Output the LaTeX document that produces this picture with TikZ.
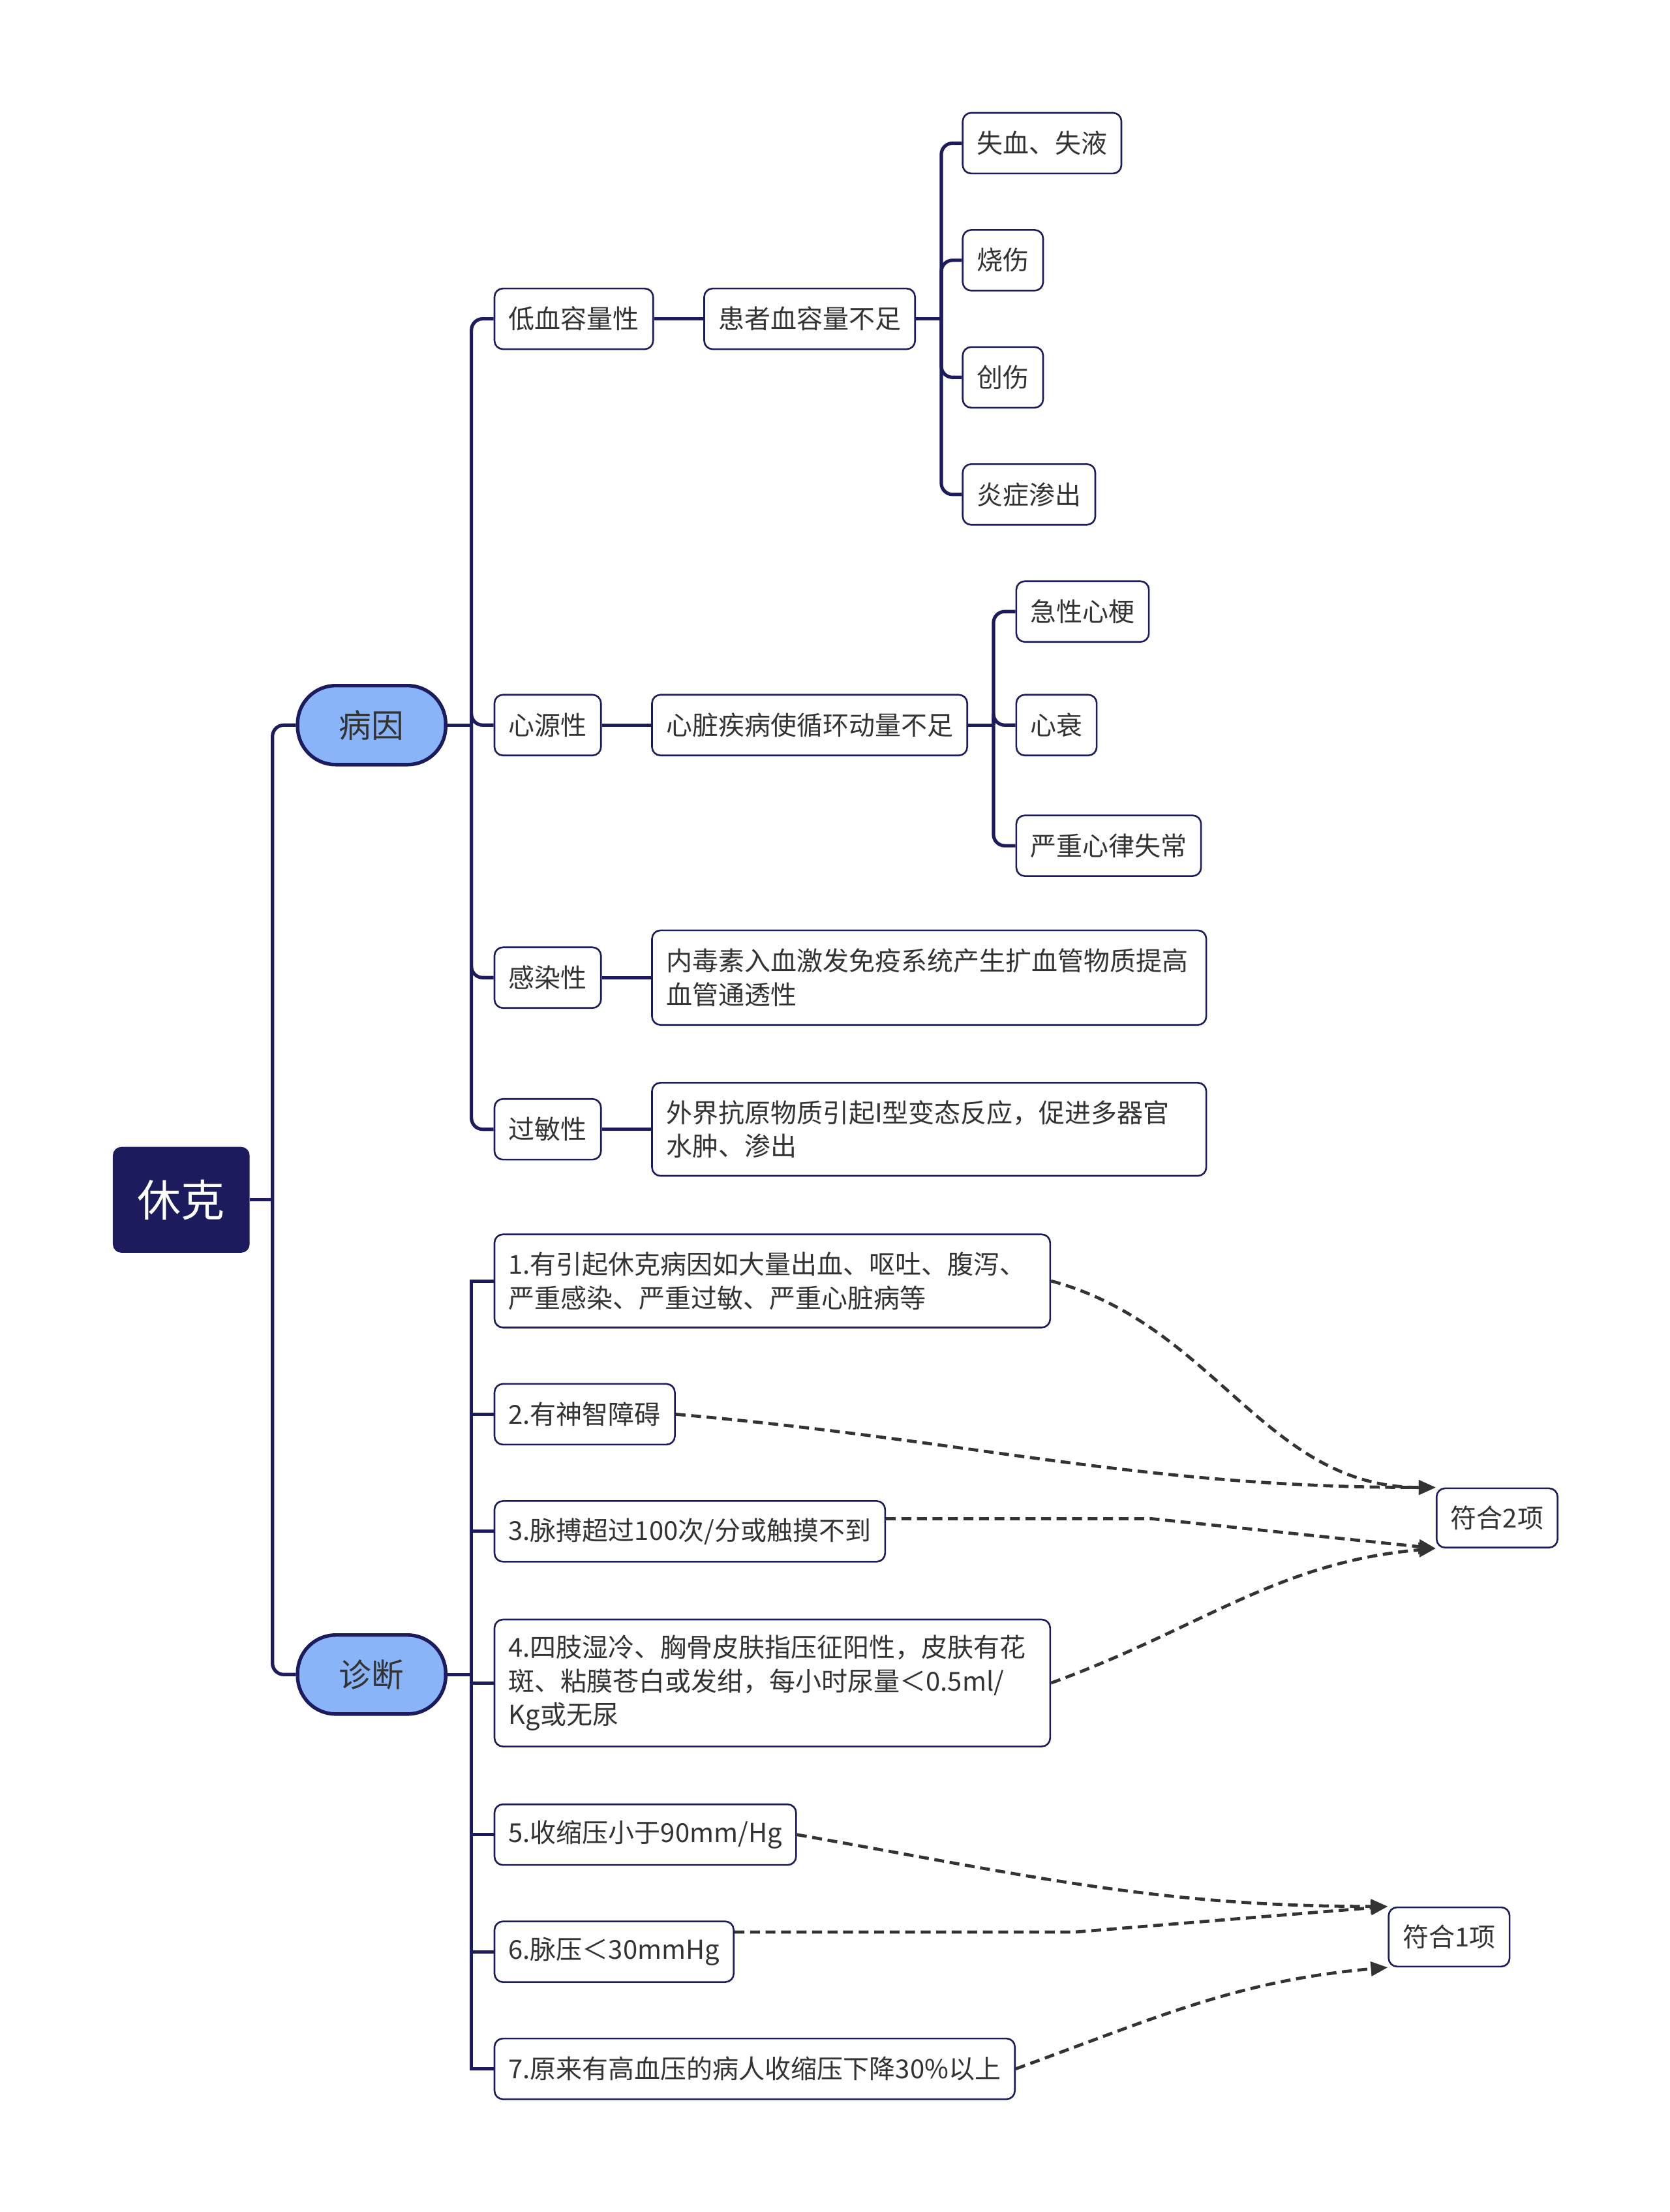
\documentclass[tikz,border=0pt]{standalone}
\usepackage{fontspec}
\setmainfont{Noto Sans CJK SC}
\usetikzlibrary{arrows.meta,positioning}
\definecolor{shocknavy}{HTML}{1B1B5E}
\definecolor{shockblue}{HTML}{8AB4F8}
\definecolor{shocktext}{HTML}{333333}

\begin{document}
\begin{tikzpicture}[x=1pt, y=1pt,
    root/.style={fill=shocknavy, rounded corners=6pt, minimum width=97pt,
                 minimum height=75pt, text=white, font=\fontsize{31}{36}\selectfont},
    main/.style={draw=shocknavy, line width=2.5pt, fill=shockblue, rounded corners=27pt,
                 minimum width=105pt, minimum height=56pt, text=shocktext,
                 font=\fontsize{23}{28}\selectfont},
    leaf/.style={draw=shocknavy, line width=1.2pt, fill=white, rounded corners=6pt,
                 minimum height=43pt, inner xsep=10pt, text=shocktext, align=left,
                 font=\fontsize{18.5}{24}\selectfont, anchor=west},
    branch/.style={draw=shocknavy, line width=2.4pt, rounded corners=8pt},
    rel/.style={draw=shocktext, line width=2.2pt, dash pattern=on 7pt off 4pt,
                -{Triangle[length=12pt,width=10pt]}}
  ]
    \useasboundingbox (0,0) rectangle (1184,-1568);
    % root and main topics
    \node[root] (root) at (128.5,-850.5) {休克};
    \node[main] (bingyin) at (263.5,-514) {病因};
    \node[main] (zhenduan) at (263.5,-1187) {诊断};
    % causes
    \node[leaf] (dixue) at (350,-226) {低血容量性};
    \node[leaf] (xinyuan) at (350,-514) {心源性};
    \node[leaf] (ganran) at (350,-693) {感染性};
    \node[leaf] (guomin) at (350,-800.5) {过敏性};
    \node[leaf, right=35pt of dixue] (huanzhe) {患者血容量不足};
    \node[leaf, right=35pt of xinyuan] (xinzang) {心脏疾病使循环动量不足};
    \node[leaf, right=35pt of ganran, minimum height=67pt, text width=373pt] (neidusu)
      {内毒素入血激发免疫系统产生扩血管物质提高\\血管通透性};
    \node[leaf, right=35pt of guomin, minimum height=66pt, text width=373pt] (waijie)
      {外界抗原物质引起I型变态反应，促进多器官\\水肿、渗出};
    \node[leaf] (shixue) at (682,-101.5) {失血、失液};
    \node[leaf] (shaoshang) at (682,-184.5) {烧伤};
    \node[leaf] (chuangshang) at (682,-267.5) {创伤};
    \node[leaf] (yanzheng) at (682,-350.5) {炎症渗出};
    \node[leaf] (jixing) at (720,-433.5) {急性心梗};
    \node[leaf] (xinshuai) at (720,-514) {心衰};
    \node[leaf] (xinlv) at (720,-599.5) {严重心律失常};
    % diagnosis
    \node[leaf, minimum height=66pt, text width=374pt] (d1) at (350,-908)
      {1.有引起休克病因如大量出血、呕吐、腹泻、\\严重感染、严重过敏、严重心脏病等};
    \node[leaf] (d2) at (350,-1002.5) {2.有神智障碍};
    \node[leaf] (d3) at (350,-1085.5) {3.脉搏超过100次/分或触摸不到};
    \node[leaf, minimum height=90pt, text width=374pt] (d4) at (350,-1193)
      {4.四肢湿冷、胸骨皮肤指压征阳性，皮肤有花\\斑、粘膜苍白或发绀，每小时尿量＜0.5ml/\\Kg或无尿};
    \node[leaf] (d5) at (350,-1300.5) {5.收缩压小于90mm/Hg};
    \node[leaf] (d6) at (350,-1383.5) {6.脉压＜30mmHg};
    \node[leaf] (d7) at (350,-1466.5) {7.原来有高血压的病人收缩压下降30\%以上};
    \node[leaf, minimum height=42pt] (fuhe2) at (1018,-1076) {符合2项};
    \node[leaf, minimum height=42pt] (fuhe1) at (984,-1373) {符合1项};

    % tree connectors
    \path (root.east) ++(16,0) coordinate (rootj);
    \draw[branch] (root.east) -- (rootj);
    \draw[branch] (rootj) |- (bingyin.west);
    \draw[branch] (rootj) |- (zhenduan.west);

    \path (bingyin.east) ++(17,0) coordinate (byj);
    \draw[branch] (bingyin.east) -- (byj);
    \foreach \n in {dixue,xinyuan,ganran,guomin}
      \draw[branch] (byj) |- (\n.west);
    \draw[branch] (dixue.east) -- (huanzhe.west);
    \draw[branch] (xinyuan.east) -- (xinzang.west);
    \draw[branch] (ganran.east) -- (neidusu.west);
    \draw[branch] (guomin.east) -- (waijie.west);

    \path (huanzhe.east) ++(18,0) coordinate (hzj);
    \draw[branch] (huanzhe.east) -- (hzj);
    \foreach \n in {shixue,shaoshang,chuangshang,yanzheng}
      \draw[branch] (hzj) |- (\n.west);

    \path (xinzang.east) ++(18,0) coordinate (xzj);
    \draw[branch] (xinzang.east) -- (xzj);
    \foreach \n in {jixing,xinshuai,xinlv}
      \draw[branch] (xzj) |- (\n.west);

    \path (zhenduan.east) ++(17,0) coordinate (zdj);
    \draw[branch] (zhenduan.east) -- (zdj);
    \foreach \n in {d1,d2,d3,d4,d5,d6,d7}
      \draw[branch, sharp corners] (zdj) |- (\n.west);

    % relations
    \draw[rel] (d1.east) to[out=-15,in=180] (fuhe2.north west);
    \draw[rel] (d2.east) to[out=-5,in=180] (fuhe2.north west);
    \draw[rel] ([yshift=9pt]d3.east) -- ++(188,0) -- (fuhe2.south west);
    \draw[rel] (d4.east) to[out=20,in=185] (fuhe2.south west);
    \draw[rel] (d5.east) to[out=-10,in=180] (fuhe1.north west);
    \draw[rel] ([yshift=14pt]d6.east) -- ++(242,0) -- (fuhe1.north west);
    \draw[rel] (d7.east) to[out=20,in=185] (fuhe1.south west);
\end{tikzpicture}
\end{document}
